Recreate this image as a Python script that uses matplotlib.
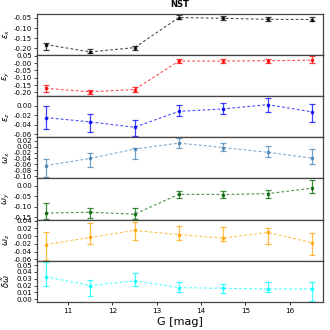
import numpy as np
import matplotlib
matplotlib.use('Agg')
import matplotlib.pyplot as plt

# magnitude bins
G = [10.5, 11.5, 12.5, 13.5, 14.5, 15.5, 16.5]

# value, lower bound, upper bound for each parameter
eps_x = [-0.182, -0.218, -0.197, -0.048, -0.052, -0.057, -0.058]
eps_x_lo = [-0.211, -0.226, -0.210, -0.054, -0.058, -0.066, -0.065]
eps_x_hi = [-0.172, -0.203, -0.187, -0.038, -0.043, -0.046, -0.046]

eps_y = [-0.172, -0.195, -0.180, 0.014, 0.014, 0.016, 0.020]
eps_y_lo = [-0.198, -0.210, -0.195, 0.000, 0.000, 0.001, 0.000]
eps_y_hi = [-0.147, -0.180, -0.165, 0.027, 0.027, 0.030, 0.045]

eps_z = [-0.025, -0.034, -0.045, -0.012, -0.007, 0.002, -0.013]
eps_z_lo = [-0.049, -0.054, -0.063, -0.022, -0.0175, -0.014, -0.034]
eps_z_hi = [-0.001, -0.018, -0.030, 0.001, 0.0055, 0.015, 0.004]

om_x = [-0.064, -0.040, -0.008, 0.012, -0.003, -0.019, -0.039]
om_x_lo = [-0.104, -0.069, -0.041, -0.003, -0.016, -0.035, -0.060]
om_x_hi = [-0.043, -0.020, -0.003, 0.029, 0.012, 0.001, -0.008]

om_y = [-0.130, -0.126, -0.135, -0.041, -0.042, -0.038, -0.012]
om_y_lo = [-0.156, -0.155, -0.160, -0.058, -0.058, -0.057, -0.036]
om_y_hi = [-0.081, -0.104, -0.108, -0.025, -0.024, -0.022, 0.026]

om_z = [-0.022, -0.003, 0.015, 0.004, -0.005, 0.0096, -0.017]
om_z_lo = [-0.062, -0.020, -0.009, -0.010, -0.012, -0.020, -0.048]
om_z_hi = [0.012, 0.035, 0.038, 0.027, 0.023, 0.022, 0.008]

dom = [0.033, 0.020, 0.027, 0.017, 0.016, 0.015, 0.015]
dom_lo = [0.019, 0.004, 0.020, 0.011, 0.009, 0.010, -0.002]
dom_hi = [0.054, 0.028, 0.039, 0.025, 0.023, 0.025, 0.025]

labels = [r'$\epsilon_x$', r'$\epsilon_y$', r'$\epsilon_z$', r'$\omega_x$',
          r'$\omega_y$', r'$\omega_z$', r'$\delta\tilde{\omega}$']
colors = ['black', 'red', 'blue', 'steelblue', 'darkgreen', 'orange', 'cyan']
series = [(eps_x, eps_x_lo, eps_x_hi), (eps_y, eps_y_lo, eps_y_hi),
          (eps_z, eps_z_lo, eps_z_hi), (om_x, om_x_lo, om_x_hi),
          (om_y, om_y_lo, om_y_hi), (om_z, om_z_lo, om_z_hi),
          (dom, dom_lo, dom_hi)]
ylims = [(-0.2335, -0.03), (-0.225, 0.055), (-0.066, 0.0195), (-0.108, 0.0317),
         (-0.161, 0.034), (-0.064, 0.043), (-0.004, 0.0563)]
yticks = [np.arange(-0.20, -0.04, 0.05), np.arange(-0.20, 0.06, 0.05),
          np.arange(-0.06, 0.01, 0.02), np.arange(-0.10, 0.03, 0.02),
          np.arange(-0.15, 0.01, 0.05), np.arange(-0.06, 0.05, 0.02),
          np.arange(0.0, 0.06, 0.01)]

fig, axes = plt.subplots(7, 1, figsize=(3.3, 3.3), dpi=100, sharex=True)
fig.subplots_adjust(left=0.112, right=0.979, top=0.958, bottom=0.085, hspace=0)

for ax, (v, lo, hi), c, lab, yl, yt in zip(axes, series, colors, labels, ylims, yticks):
    v = np.array(v)
    err = [v - np.array(lo), np.array(hi) - v]
    ax.plot(G, v, ls='--', lw=0.8, color=c, alpha=0.7, dashes=(2.5, 2))
    ax.errorbar(G, v, yerr=err, fmt='s', ms=1.5, color=c, ecolor=c,
                elinewidth=0.9, capsize=2.5, capthick=0.9, alpha=0.75)
    ax.set_ylim(*yl)
    ax.set_yticks(yt)
    ax.set_yticklabels(['{:.2f}'.format(t + 0.0) for t in yt])
    ax.set_ylabel(lab, fontsize=6)
    ax.yaxis.set_label_coords(-0.088, 0.5)
    ax.tick_params(axis='y', labelsize=5, length=2, width=0.5, pad=1.5)
    ax.tick_params(axis='x', labelsize=5.2, length=2, width=0.6, pad=2.5)
    for s in ax.spines.values():
        s.set_color('#444444')
        s.set_linewidth(0.9)

axes[-1].set_xlim(10.3, 16.75)
axes[-1].set_xticks([11, 12, 13, 14, 15, 16])
axes[-1].set_xlabel('G [mag]', fontsize=8, labelpad=2)
axes[0].set_title('NST', fontsize=6, fontweight='bold', pad=5)

fig.savefig('out.png', dpi=100)
